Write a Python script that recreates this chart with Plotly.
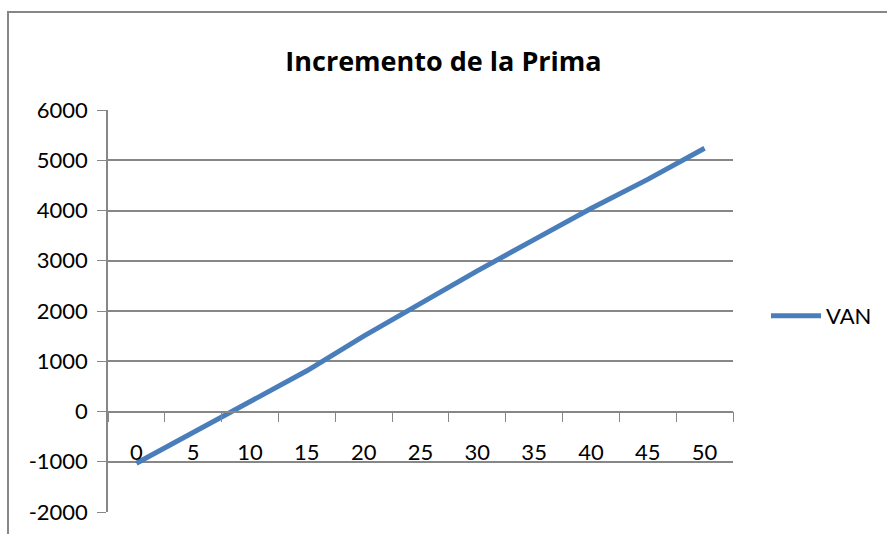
import plotly.graph_objects as go

# datos
categorias = ["0", "5", "10", "15", "20", "25", "30", "35", "40", "45", "50"]
van = [-1030, -410, 190, 810, 1500, 2150, 2800, 3420, 4040, 4620, 5240]
y_ticks = [-2000, -1000, 0, 1000, 2000, 3000, 4000, 5000, 6000]

W, H = 887, 534
ML, MR, MT, MB = 108, 154, 110, 22
pw, ph = W - ML - MR, H - MT - MB
gris = "#878787"
fuente = "Lato, Calibri, sans-serif"


def px_x(px):
    return (px - ML) / pw


def px_y(py):
    return (H - MB - py) / ph


fig = go.Figure()
fig.add_trace(go.Scatter(
    x=categorias, y=van, name="VAN", mode="lines",
    line=dict(color="#4A7EBB", width=5),
))

fig.update_layout(
    width=W, height=H,
    margin=dict(l=ML, r=MR, t=MT, b=MB, autoexpand=False),
    paper_bgcolor="white", plot_bgcolor="white",
    font=dict(family=fuente, size=22, color="black"),
    title=dict(text="<b>Incremento de la Prima</b>", x=0.5, xanchor="center",
               y=1 - 62 / H, yanchor="middle",
               font=dict(family="Open Sans, sans-serif", size=27, color="black")),
    showlegend=True,
    legend=dict(x=px_x(766), xanchor="left", y=px_y(316), yanchor="middle",
                itemwidth=50, font=dict(size=22), bgcolor="rgba(0,0,0,0)"),
)

fig.update_yaxes(
    range=[-2000, 6000], tickvals=y_ticks, ticktext=[str(v) for v in y_ticks],
    showgrid=True, gridcolor=gris, gridwidth=1.5,
    zeroline=False, automargin=False,
    showline=True, linecolor=gris, linewidth=1.5,
    ticks="outside", ticklen=9, tickcolor=gris,
    ticklabelstandoff=5,
)

fig.update_xaxes(
    type="category", range=[-0.5, 10.5],
    anchor="free", position=0.25,
    showgrid=False, zeroline=False, automargin=False,
    showline=True, linecolor=gris, linewidth=1.5,
    ticks="outside", ticklen=10, tickcolor=gris, tickson="boundaries",
    ticklabelstandoff=21,
)

# borde del area del grafico (estilo Excel)
fig.add_shape(type="rect", xref="paper", yref="paper",
              x0=px_x(8), x1=px_x(W + 20), y0=px_y(H + 20), y1=px_y(12),
              line=dict(color=gris, width=2), layer="below")

fig.write_html("out.html", config={"displayModeBar": False},
               post_script="document.body.style.margin='0';")
